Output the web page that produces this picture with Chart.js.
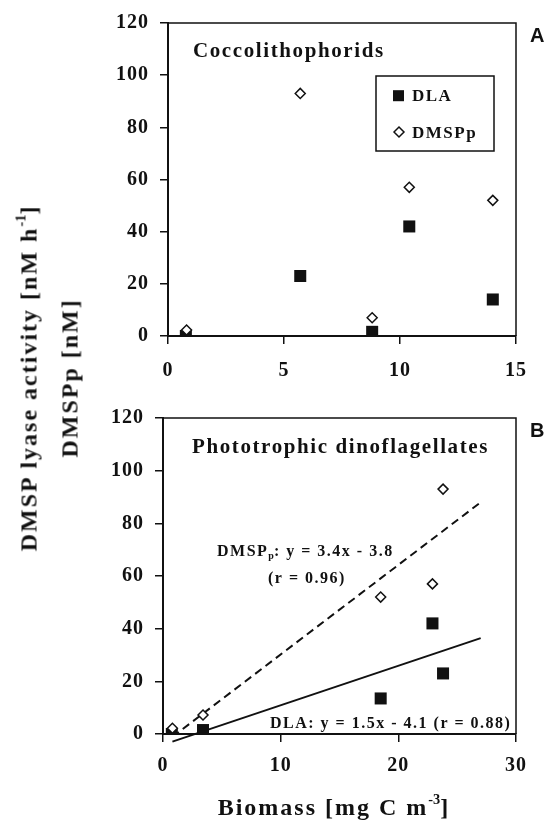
<!DOCTYPE html>
<html><head><meta charset="utf-8">
<script src="https://cdn.jsdelivr.net/npm/chart.js@4/dist/chart.umd.min.js"></script>
<style>
html,body{margin:0;padding:0;background:#fff;}
body{width:551px;height:820px;position:relative;overflow:hidden;font-family:"Liberation Serif","Times New Roman",serif;color:#111;}
canvas{position:absolute;left:0;}
#cA{top:0;}
#cB{top:395px;}
.ytitle{position:absolute;left:49px;top:378px;transform:translate(-50%,-50%) rotate(-90deg);font-weight:bold;font-size:24px;letter-spacing:2px;text-align:center;white-space:nowrap;line-height:38px;}
.xtitle{position:absolute;left:334px;top:795px;transform:translateX(-50%);font-weight:bold;font-size:24px;letter-spacing:2px;white-space:nowrap;line-height:24px;}
.sup{font-size:0.6em;position:relative;top:-0.75em;letter-spacing:0;}
</style>
</head><body>
<canvas id="cA" width="551" height="400"></canvas>
<canvas id="cB" width="551" height="400"></canvas>
<div class="ytitle">DMSP lyase activity [nM h<span class="sup">-1</span>]<br>DMSPp [nM]</div>
<div class="xtitle">Biomass [mg C m<span class="sup">-3</span>]</div>
<script>
// ---- data ----
const seriesNames = ['DLA', 'DMSPp'];
const panelA_DLA_x   = [0.77, 5.7, 8.8, 10.4, 14.0];
const panelA_DLA_y   = [0, 23, 1.6, 42, 14];
const panelA_DMSPp_x = [0.8, 5.7, 8.8, 10.4, 14.0];
const panelA_DMSPp_y = [2.3, 93, 7, 57, 52];
const panelB_DLA_x   = [0.75, 3.4, 18.5, 22.9, 23.8];
const panelB_DLA_y   = [0, 1.5, 13.5, 42, 23];
const panelB_DMSPp_x = [0.8, 3.4, 18.5, 22.9, 23.8];
const panelB_DMSPp_y = [2.2, 7.2, 52, 57, 93];
const fitDLA   = [1.5, -4.1];   // slope, intercept
const fitDMSPp = [3.4, -3.8];
const fitRange = [0.8, 27];
const xTicksA = [0, 5, 10, 15];
const xTicksB = [0, 10, 20, 30];
const yTicks  = [0, 20, 40, 60, 80, 100, 120];

const INK = '#111';
const SERIF = "'Liberation Serif','Times New Roman',serif";
const SANS = "'Liberation Sans',Arial,sans-serif";

function pts(xs, ys){ return xs.map((x,i)=>({x, y: ys[i]})); }
function fitPts(f){ return fitRange.map(x=>({x, y: f[0]*x + f[1]})); }

const squareStyle  = {pointStyle:'rect', pointRadius:8.5, pointHoverRadius:8.5, backgroundColor:INK, borderColor:INK, pointBorderWidth:0, borderWidth:0};
const diamondStyle = {pointStyle:'rectRot', pointRadius:5, pointHoverRadius:5, backgroundColor:'#fff', borderColor:INK, pointBorderWidth:1.5, borderWidth:1.5};

function drawMarker(ctx, style, radius, x, y){
  ctx.save();
  ctx.fillStyle = style.backgroundColor; ctx.strokeStyle = style.borderColor; ctx.lineWidth = style.pointBorderWidth;
  if (Chart.helpers && Chart.helpers.drawPoint) {
    Chart.helpers.drawPoint(ctx, {pointStyle: style.pointStyle, radius, borderWidth: style.pointBorderWidth, rotation:0}, x, y);
  } else {
    ctx.beginPath();
    if (style.pointStyle === 'rect') { const s = radius*Math.SQRT1_2; ctx.rect(x-s,y-s,2*s,2*s); ctx.fill(); }
    else { ctx.moveTo(x, y-radius); ctx.lineTo(x+radius,y); ctx.lineTo(x,y+radius); ctx.lineTo(x-radius,y); ctx.closePath(); ctx.fill(); ctx.stroke(); }
  }
  ctx.restore();
}

function drawSegments(ctx, x, y, segs, size, ls){
  let cx = x;
  segs.forEach(s=>{
    const fs = s.sub ? Math.round(size*0.6) : size;
    ctx.font = 'bold ' + fs + 'px ' + SERIF;
    ctx.letterSpacing = (s.sub ? 0 : ls) + 'px';
    ctx.fillText(s.t, cx, y + (s.sub ? size*0.2 : 0));
    cx += ctx.measureText(s.t).width;
  });
}

function makePlugin(cfg){
  return {
    id: 'panelDeco',
    beforeDraw(chart){ chart.ctx.letterSpacing = '1px'; },
    afterDraw(chart){
      const ctx = chart.ctx, a = chart.chartArea;
      ctx.save();
      // frame top / right
      ctx.strokeStyle = INK; ctx.lineWidth = 1.5;
      ctx.beginPath(); ctx.moveTo(a.left, a.top); ctx.lineTo(a.right, a.top); ctx.lineTo(a.right, a.bottom); ctx.stroke();
      ctx.fillStyle = INK; ctx.textAlign = 'left'; ctx.textBaseline = 'alphabetic';
      // panel letter
      ctx.font = 'bold 20px ' + SANS; ctx.letterSpacing = '0px';
      ctx.fillText(cfg.letter, a.right + 14, a.top + 19);
      // annotations
      cfg.texts.forEach(t => drawSegments(ctx, a.left + t.dx, a.top + t.dy, t.segs, t.size, t.ls));
      // legend
      if (cfg.legend) {
        const L = cfg.legend;
        ctx.lineWidth = 1.5; ctx.strokeStyle = INK;
        ctx.strokeRect(a.left + L.dx, a.top + L.dy, L.w, L.h);
        const markers = chart.data.datasets.filter(d => !d.showLine);
        L.items.forEach((it, i) => {
          const ds = chart.data.datasets.find(d => d.label === it.label);
          drawMarker(ctx, ds.styleRef, it.r, a.left + it.mx, a.top + it.my);
          ctx.fillStyle = INK;
          drawSegments(ctx, a.left + it.tx, a.top + it.ty, [{t: it.label}], 17, 1.5);
        });
      }
      ctx.restore();
    }
  };
}

function scaleOpts(ticksArr, isX, fitSize, pad){
  return {
    type: 'linear',
    min: ticksArr[0], max: ticksArr[ticksArr.length-1],
    afterBuildTicks: s => { s.ticks = ticksArr.map(v => ({value: v})); },
    afterFit: s => { if (isX) s.height = fitSize; else s.width = fitSize; },
    grid: {display: true, drawOnChartArea: false, drawTicks: true, tickLength: 8, color: INK, lineWidth: 1.5},
    border: {display: true, color: INK, width: 2},
    ticks: {font: {family: SERIF, size: 20, weight: 'bold'}, color: INK, padding: pad, maxRotation: 0, autoSkip: false}
  };
}

function scatterDS(label, xs, ys, style, order){
  return Object.assign({label, data: pts(xs, ys), order, showLine: false, styleRef: style}, style);
}

const commonOpts = (xTicks, xH, yW) => ({
  responsive: false, animation: false, devicePixelRatio: 1,
  layout: {padding: {left: 0, top: 18, right: 35, bottom: 0}},
  plugins: {legend: {display: false}, tooltip: {enabled: false}},
  scales: { x: scaleOpts(xTicks, true, xH, 0), y: scaleOpts(yTicks, false, yW, 11) }
});

// Panel A
const optsA = commonOpts(xTicksA, 64, 168);
optsA.scales.x.ticks.padding = 15;
new Chart(document.getElementById('cA'), {
  type: 'scatter',
  data: { datasets: [
    scatterDS(seriesNames[1], panelA_DMSPp_x, panelA_DMSPp_y, diamondStyle, 0),
    scatterDS(seriesNames[0], panelA_DLA_x, panelA_DLA_y, squareStyle, 1)
  ]},
  options: optsA,
  plugins: [makePlugin({
    letter: 'A',
    texts: [{dx: 25, dy: 34, size: 21, ls: 1.6, segs: [{t: 'Coccolithophorids'}]}],
    legend: {dx: 208, dy: 53, w: 118, h: 75, items: [
      {label: seriesNames[0], r: 7.8, mx: 230.5, my: 72.7, tx: 244, ty: 78},
      {label: seriesNames[1], r: 5, mx: 231, my: 109, tx: 244, ty: 115}
    ]}
  })]
});

// Panel B
const optsB = commonOpts(xTicksB, 61, 163);
optsB.scales.x.ticks.padding = 12;
new Chart(document.getElementById('cB'), {
  type: 'scatter',
  data: { datasets: [
    scatterDS(seriesNames[1], panelB_DMSPp_x, panelB_DMSPp_y, diamondStyle, 0),
    scatterDS(seriesNames[0], panelB_DLA_x, panelB_DLA_y, squareStyle, 1),
    {label: 'fit DMSPp', data: fitPts(fitDMSPp), showLine: true, pointRadius: 0, borderColor: INK, borderWidth: 2, borderDash: [8, 5], order: 2},
    {label: 'fit DLA', data: fitPts(fitDLA), showLine: true, pointRadius: 0, borderColor: INK, borderWidth: 2, clip: false, order: 3}
  ]},
  options: optsB,
  plugins: [makePlugin({
    letter: 'B',
    texts: [
      {dx: 29, dy: 35, size: 21, ls: 1.6, segs: [{t: 'Phototrophic dinoflagellates'}]},
      {dx: 54, dy: 138, size: 16, ls: 1.5, segs: [{t: 'DMSP'}, {t: 'p', sub: true}, {t: ': y = 3.4x - 3.8'}]},
      {dx: 105, dy: 165, size: 16, ls: 1.5, segs: [{t: '(r = 0.96)'}]},
      {dx: 107, dy: 310, size: 16, ls: 1.5, segs: [{t: 'DLA: y = 1.5x - 4.1 (r = 0.88)'}]}
    ]
  })]
});
</script>
</body></html>
